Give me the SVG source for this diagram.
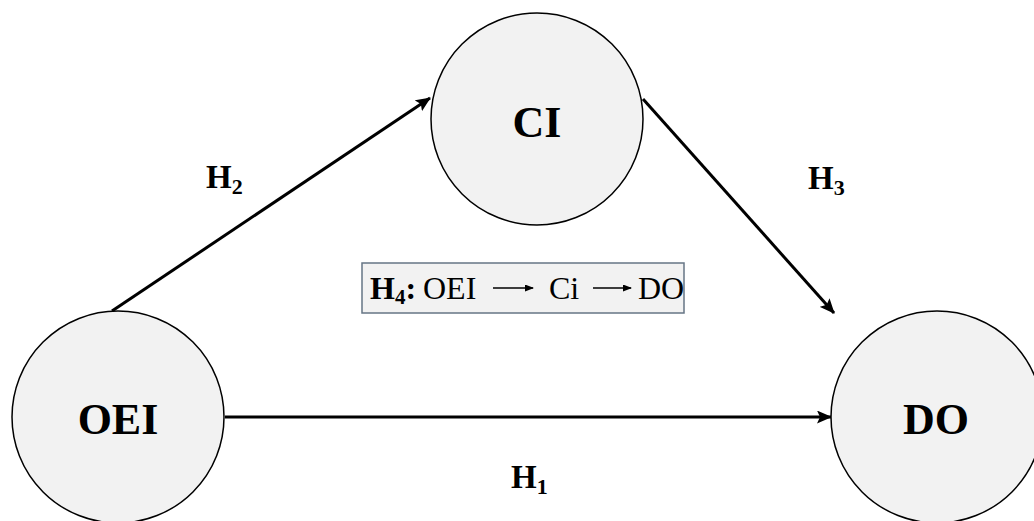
<svg xmlns="http://www.w3.org/2000/svg" width="1034" height="521" viewBox="0 0 1034 521">
<style>
.node{fill:#f2f2f2;stroke:#000;stroke-width:1.5}
.big{font-family:"Liberation Serif","Times New Roman",serif;font-weight:bold;font-size:44px;text-anchor:middle;fill:#000}
.h{font-family:"Liberation Serif","Times New Roman",serif;font-weight:bold;font-size:33px;fill:#000}
.sub{font-size:22px}
.conn{stroke:#000;stroke-width:3;fill:none;marker-end:url(#ah)}
.box{fill:#f2f2f2;stroke:#667585;stroke-width:1.5}
.bt{font-family:"Liberation Serif","Times New Roman",serif;font-size:32px;fill:#000}
.sa{stroke:#000;stroke-width:1.5;fill:none;marker-end:url(#sah)}
</style>
<defs>
<marker id="ah" markerUnits="userSpaceOnUse" markerWidth="15" markerHeight="13" refX="14" refY="6.5" orient="auto">
<path d="M0,0 L15,6.5 L0,13 L3,6.5 Z" fill="#000"/>
</marker>
<marker id="sah" markerUnits="userSpaceOnUse" markerWidth="9" markerHeight="7" refX="8" refY="3.5" orient="auto">
<path d="M0,0 L9,3.5 L0,7 Z" fill="#000"/>
</marker>
</defs>
<rect width="1034" height="521" fill="#fff"/>
<g id="connectors">
<line class="conn" x1="225" y1="417" x2="831" y2="417"/>
<line class="conn" x1="112" y1="311" x2="430" y2="98"/>
<line class="conn" x1="643" y1="99" x2="834" y2="313"/>
</g>
<g id="node-OEI">
<circle class="node" cx="118" cy="417" r="106"/>
<text class="big" x="118" y="434">OEI</text>
</g>
<g id="node-CI">
<circle class="node" cx="537" cy="119" r="106"/>
<text class="big" x="537" y="137">CI</text>
</g>
<g id="node-DO">
<circle class="node" cx="937" cy="417" r="106"/>
<text class="big" x="936" y="434">DO</text>
</g>
<g id="labels">
<text class="h" x="206" y="188">H<tspan class="sub" dy="6">2</tspan></text>
<text class="h" x="808" y="189">H<tspan class="sub" dy="6">3</tspan></text>
<text class="h" x="511" y="488">H<tspan class="sub" dy="6">1</tspan></text>
</g>
<g id="node-H4">
<rect class="box" x="362" y="263" width="322" height="50"/>
<text class="bt" y="299"><tspan x="370" font-weight="bold">H</tspan><tspan font-weight="bold" font-size="21" dy="5">4</tspan><tspan font-weight="bold" dy="-5">:</tspan><tspan x="423">OEI</tspan><tspan x="549">Ci</tspan><tspan x="638">DO</tspan></text>
<line class="sa" x1="493" y1="288" x2="533" y2="288"/>
<line class="sa" x1="593" y1="288" x2="631" y2="288"/>
</g>
</svg>
